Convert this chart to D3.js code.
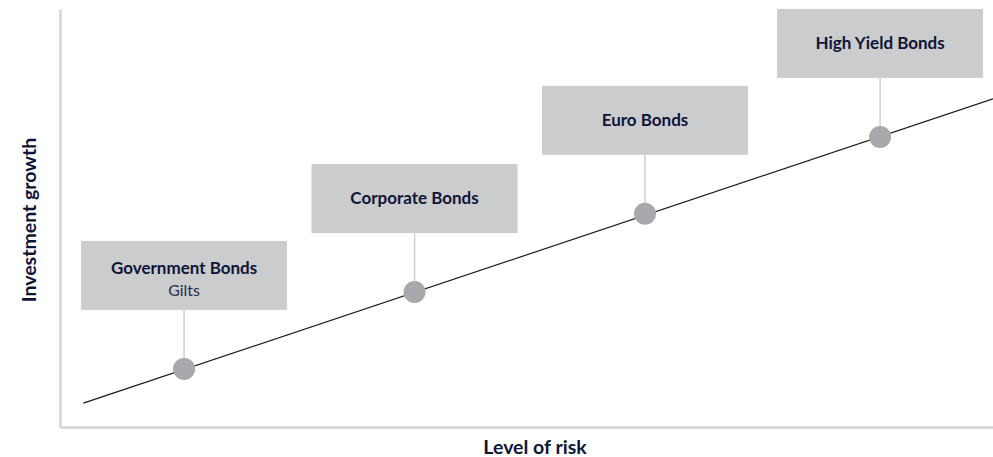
<!DOCTYPE html>
<html>
<head>
<meta charset="utf-8">
<script src="https://cdn.jsdelivr.net/npm/d3@7"></script>
<style>
body { margin:0; background:#fff; }
text { font-family: Lato, "Open Sans", sans-serif; fill:#0f1437; }
</style>
</head>
<body>
<div id="chart"></div>
<script>
// data
var names = ['Government Bonds', 'Corporate Bonds', 'Euro Bonds', 'High Yield Bonds'];
var subNames = ['Gilts', '', '', ''];
var risk = [13.3, 38.0, 62.7, 87.9];
var growth = [13.9, 32.3, 51.0, 69.4];
var trendRisk = [2.5, 100];
var trendGrowth = [5.7, 78.5];

//margins
var svgWidth = 993,
svgHeight = 457;

var margin = {t:9, r:0, b:30, l:60};

var width = svgWidth - margin.l - margin.r,
height = svgHeight - margin.t - margin.b;

var svg = d3.select('#chart')
	.append('svg')
	.attr('width', svgWidth)
	.attr('height', svgHeight);

var chart1 = svg.append('g')
	.attr('transform', `translate(${margin.l},${margin.t})`);

var xScale = d3.scaleLinear().domain([0, 100]).range([0, width]),
	yScale = d3.scaleLinear().domain([0, 100]).range([height, 0]);

// axes (no ticks)
chart1.append('g')
	.attr('transform', `translate(0,${height})`)
	.call(d3.axisBottom(xScale).ticks(0).tickSize(0))
	.call(g => g.select('.domain').attr('stroke', '#d4d4d6').attr('stroke-width', 2.5));

chart1.append('g')
	.call(d3.axisLeft(yScale).ticks(0).tickSize(0))
	.call(g => g.select('.domain').attr('stroke', '#d4d4d6').attr('stroke-width', 2.5));

// trend line
var trend = trendRisk.map((r, i) => ({r: r, g: trendGrowth[i]}));
chart1.append('path')
	.datum(trend)
	.attr('fill', 'none')
	.attr('stroke', '#1b1b1f')
	.attr('stroke-width', 1.2)
	.attr('d', d3.line().x(d => xScale(d.r)).y(d => yScale(d.g)));

var data = names.map((n, i) => ({name: n, sub: subNames[i], r: risk[i], g: growth[i]}));

var boxW = 206, boxH = 69, gap = 128;

var grp = chart1.selectAll('.item')
	.data(data)
	.enter()
	.append('g')
	.attr('class', 'item');

// connectors
grp.append('line')
	.attr('x1', d => xScale(d.r))
	.attr('x2', d => xScale(d.r))
	.attr('y1', d => yScale(d.g) - gap + boxH)
	.attr('y2', d => yScale(d.g))
	.attr('stroke', '#d0d0d2')
	.attr('stroke-width', 1.5);

// boxes
grp.append('rect')
	.attr('x', d => xScale(d.r) - boxW / 2)
	.attr('y', d => yScale(d.g) - gap)
	.attr('width', boxW)
	.attr('height', boxH)
	.attr('fill', '#cbccce');

grp.append('text')
	.attr('x', d => xScale(d.r))
	.attr('y', d => yScale(d.g) - gap + (d.sub ? 33 : 40))
	.attr('text-anchor', 'middle')
	.style('font-weight', 'bold')
	.style('font-size', '17px')
	.text(d => d.name);

grp.append('text')
	.attr('x', d => xScale(d.r))
	.attr('y', d => yScale(d.g) - gap + 55)
	.attr('text-anchor', 'middle')
	.style('font-size', '16px')
	.style('fill', '#2a2f4a')
	.text(d => d.sub);

// points
grp.append('circle')
	.attr('cx', d => xScale(d.r))
	.attr('cy', d => yScale(d.g))
	.attr('r', 11)
	.attr('fill', '#a9a9ad');

// axis labels
svg.append('text')
	.attr('transform', `translate(36,${margin.t + height / 2 + 2})rotate(-90)`)
	.attr('text-anchor', 'middle')
	.style('font-weight', 'bold')
	.style('font-size', '19.5px')
	.text('Investment growth');

svg.append('text')
	.attr('x', 535)
	.attr('y', 454)
	.attr('text-anchor', 'middle')
	.style('font-weight', 'bold')
	.style('font-size', '19.5px')
	.text('Level of risk');
</script>
</body>
</html>
